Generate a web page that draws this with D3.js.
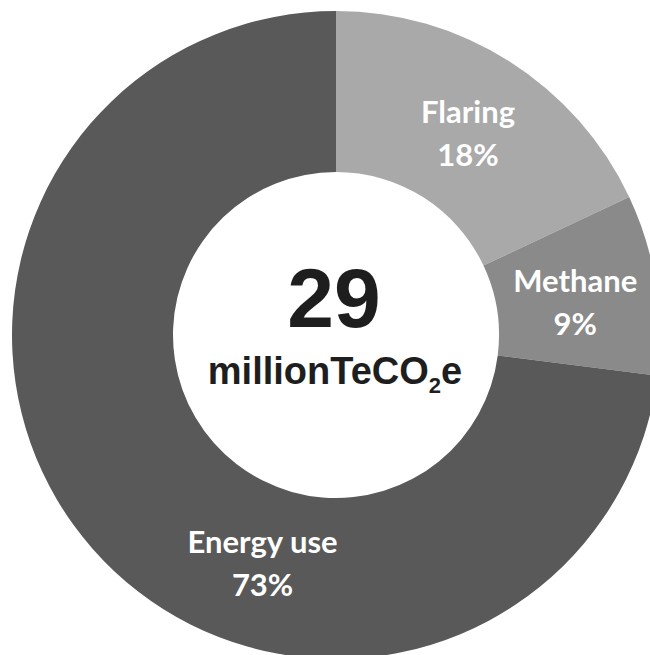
<!DOCTYPE html>
<html>
<head>
<meta charset="utf-8">
<script src="https://cdn.jsdelivr.net/npm/d3@7"></script>
<style>
  html, body { margin: 0; padding: 0; background: #fff; }
  svg { display: block; }
</style>
</head>
<body>
<svg id="chart" width="650" height="655"></svg>
<script>
// Emission sources and their shares of the total
const categories = ["Flaring", "Methane", "Energy use"];
const shares = [18, 9, 73];
const colors = ["#a9a9a9", "#8a8a8a", "#595959"];
const totalValue = "29";
const totalUnit = "millionTeCO";

const width = 650, height = 655;
const cx = 336, cy = 335;
const outerR = 324, innerR = 163;

const svg = d3.select("#chart");
const g = svg.append("g").attr("transform", `translate(${cx},${cy})`);

const data = categories.map((c, i) => ({ name: c, value: shares[i], color: colors[i] }));

const pie = d3.pie().value(d => d.value).sort(null);
const arc = d3.arc().innerRadius(innerR).outerRadius(outerR);
const arcs = pie(data);

g.selectAll("path.slice")
  .data(arcs)
  .join("path")
  .attr("class", "slice")
  .attr("d", arc)
  .attr("fill", d => d.data.color);

// Label anchor inside each slice: radius and fraction of the slice's sweep
const labelArc = [
  { r: 238, t: 0.52 },
  { r: 241, t: 0.565 },
  { r: 243, t: 0.382 }
];

const labels = g.selectAll("g.label")
  .data(arcs)
  .join("g")
  .attr("class", "label")
  .attr("transform", (d, i) => {
    const a = d.startAngle + (d.endAngle - d.startAngle) * labelArc[i].t;
    const r = labelArc[i].r;
    return `translate(${Math.sin(a) * r},${-Math.cos(a) * r})`;
  });

labels.append("text")
  .attr("text-anchor", "middle")
  .attr("y", -14)
  .attr("fill", "#fff")
  .style("font-family", "Lato, 'Open Sans', sans-serif")
  .style("font-weight", "700")
  .style("font-size", "31px")
  .text(d => d.data.name);

labels.append("text")
  .attr("text-anchor", "middle")
  .attr("y", 29)
  .attr("fill", "#fff")
  .style("font-family", "Lato, 'Open Sans', sans-serif")
  .style("font-weight", "700")
  .style("font-size", "31px")
  .text(d => d.data.value + "%");

// Central total
g.append("text")
  .attr("text-anchor", "middle")
  .attr("x", -2)
  .attr("y", -8)
  .attr("fill", "#1e1e1e")
  .style("font-family", "'Liberation Sans', Arial, sans-serif")
  .style("font-weight", "700")
  .style("font-size", "84px")
  .text(totalValue);

const unit = g.append("text")
  .attr("text-anchor", "middle")
  .attr("x", -1)
  .attr("y", 49)
  .attr("fill", "#1e1e1e")
  .style("font-family", "'Liberation Sans', Arial, sans-serif")
  .style("font-weight", "700")
  .style("font-size", "38px");
unit.append("tspan").text(totalUnit);
unit.append("tspan").attr("dy", 9).style("font-size", "22px").text("2");
unit.append("tspan").attr("dy", -9).text("e");
</script>
</body>
</html>
